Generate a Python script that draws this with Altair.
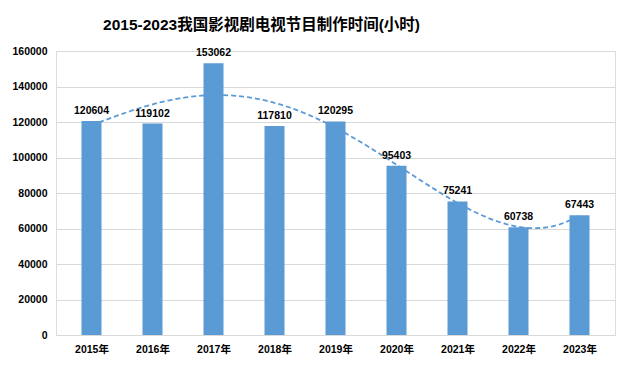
import altair as alt
import pandas as pd

years = [2015, 2016, 2017, 2018, 2019, 2020, 2021, 2022, 2023]
hours = [120604, 119102, 153062, 117810, 120295, 95403, 75241, 60738, 67443]
y_ticks = [0, 20000, 40000, 60000, 80000, 100000, 120000, 140000, 160000]
title_text = "2015-2023我国影视剧电视节目制作时间(小时)"

df = pd.DataFrame({"year": years, "hours": hours})

FONT = "'Liberation Sans', 'Noto Sans CJK SC', sans-serif"
BLUE = "#5B9BD5"

x = alt.X("year:Q", scale=alt.Scale(domain=[2014.5, 2023.5], nice=False, zero=False),
          axis=alt.Axis(values=years, labelExpr="datum.value + '年'", title=None,
                        grid=False, ticks=False, domain=True, domainColor="#D9D9D9",
                        labelFont=FONT, labelFontSize=10.5, labelFontWeight="bold",
                        labelColor="#000000", labelPadding=9))
y = alt.Y("hours:Q", scale=alt.Scale(domain=[0, 160000], nice=False),
          axis=alt.Axis(values=y_ticks, tickCount=9, format="d", labelOverlap=False,
                        title=None, grid=True, gridColor="#D9D9D9",
                        ticks=False, domain=False, labelFont=FONT, labelFontSize=10.5,
                        labelFontWeight="bold", labelColor="#000000", labelPadding=9))

base = alt.Chart(df)
bars = base.mark_bar(color=BLUE, size=20).encode(x=x, y=y)
labels = base.mark_text(baseline="bottom", dy=-5, font=FONT, fontSize=10.5,
                        fontWeight="bold", color="#000000").encode(
    x=x, y=y, text="hours:Q")
trend = base.transform_regression("year", "hours", method="poly", order=4).mark_line(
    color=BLUE, strokeWidth=1.8, strokeDash=[5, 3]).encode(x=x, y=y)

chart = alt.layer(bars, trend, labels).properties(
    width=559, height=284,
    title=alt.TitleParams(title_text, font=FONT, fontSize=15.5, fontWeight="bold",
                          color="#000000", anchor="middle", dx=-74, offset=13),
    autosize=alt.AutoSizeParams(type="none"),
    padding={"left": 48, "top": 43, "right": 7, "bottom": 25},
).configure_view(stroke=None).configure(background="white")

chart.save("out.html", embed_options={"renderer": "svg", "actions": False})
